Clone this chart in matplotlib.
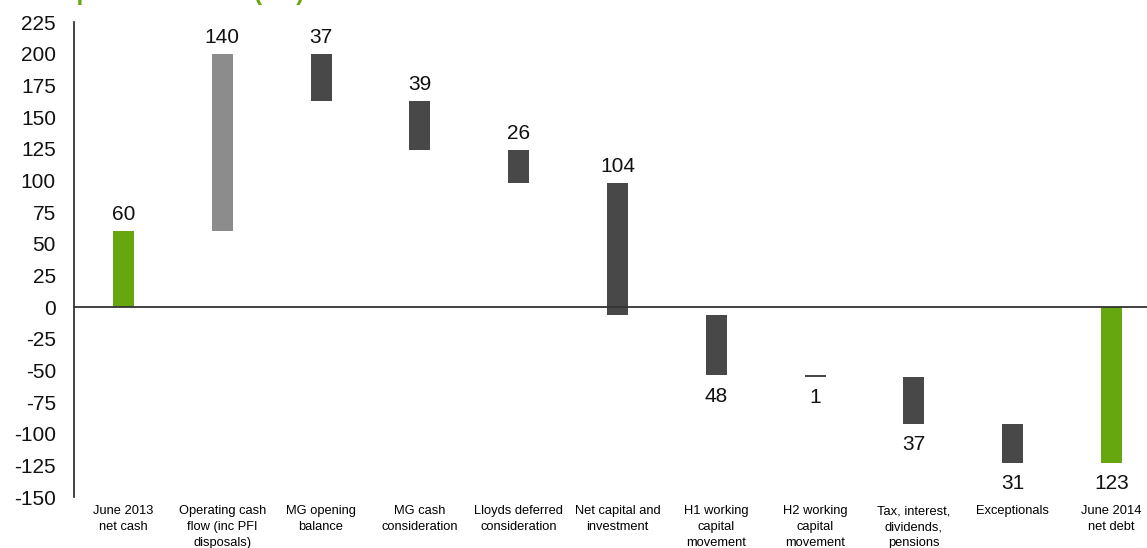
import matplotlib
matplotlib.use("Agg")
import matplotlib.pyplot as plt
import numpy as np

# Net cash bridge, June 2013 -> June 2014 (GBP m)
categories = [
    "June 2013\nnet cash",
    "Operating cash\nflow (inc PFI\ndisposals)",
    "MG opening\nbalance",
    "MG cash\nconsideration",
    "Lloyds deferred\nconsideration",
    "Net capital and\ninvestment",
    "H1 working\ncapital\nmovement",
    "H2 working\ncapital\nmovement",
    "Tax, interest,\ndividends,\npensions",
    "Exceptionals",
    "June 2014\nnet debt",
]
opening = 60
movements = [140, -37, -39, -26, -104, -48, -1, -37, -31]
closing = -123

GREEN = "#66a60f"
LIGHT = "#8c8c8c"
DARK = "#484848"

plt.rcParams["font.family"] = ["Liberation Sans", "DejaVu Sans"]
plt.rcParams["axes.unicode_minus"] = False

# floating bar geometry
levels = np.cumsum([opening] + movements)
starts = levels[:-1]
heights = list(movements)
bottoms = [min(s, s + h) for s, h in zip(starts, heights)]

bar_bottoms = [0] + bottoms + [closing]
bar_heights = [opening] + [abs(h) for h in heights] + [abs(closing)]
colors = [GREEN, LIGHT] + [DARK] * (len(movements) - 1) + [GREEN]
values = [opening] + [abs(h) for h in heights] + [abs(closing)]
label_up = [True, True, True, True, True, True, False, False, False, False, False]

fig = plt.figure(figsize=(11.47, 5.48), dpi=100)
ax = fig.add_axes([0.0645, 0.093, 0.9477, 0.8668])

x = np.arange(len(categories))
ax.bar(x, bar_heights, bottom=bar_bottoms, width=0.213, color=colors, zorder=2)
ax.axhline(0, color="#333333", linewidth=1.3, zorder=3)

for xi, b, h, v, up in zip(x, bar_bottoms, bar_heights, values, label_up):
    if up:
        ax.annotate(str(v), (xi, b + h), xytext=(0, 5), textcoords="offset points",
                    ha="center", va="bottom", fontsize=15, color="#111111")
    else:
        ax.annotate(str(v), (xi, b), xytext=(0, -8), textcoords="offset points",
                    ha="center", va="top", fontsize=15, color="#111111")

ax.set_xlim(-0.5, 10.5)
ax.set_ylim(-150, 225)
ax.set_yticks(np.arange(-150, 226, 25))
ax.tick_params(axis="y", length=0, labelsize=15, pad=13, labelcolor="#111111")
ax.set_xticks(x)
ax.set_xticklabels(categories, fontsize=9.3, linespacing=1.45)
ax.tick_params(axis="x", length=0, pad=6)
for side in ["top", "right", "bottom"]:
    ax.spines[side].set_visible(False)
ax.spines["left"].set_color("#222222")
ax.spines["left"].set_linewidth(1.2)

# heading sits at the top edge of the canvas
fig.text(0.0175, 0.991, "Group net cash flow (£m)", color=GREEN, fontsize=17,
         fontweight="bold", va="bottom", ha="left")

fig.savefig("out.png", dpi=100)
